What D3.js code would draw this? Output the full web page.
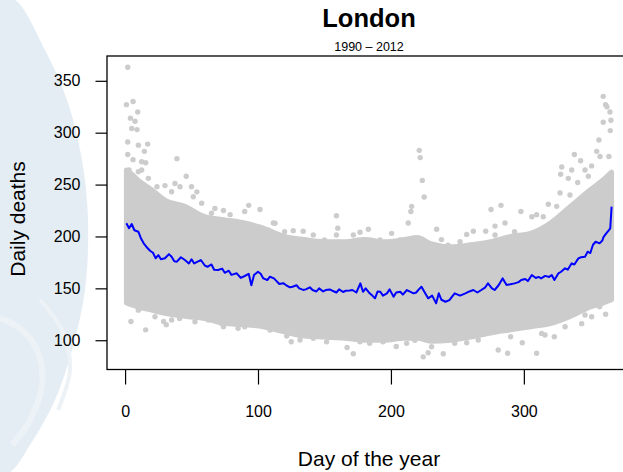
<!DOCTYPE html>
<html>
<head>
<meta charset="utf-8">
<script src="https://cdn.jsdelivr.net/npm/d3@7"></script>
<style>
  body { margin: 0; background: #fff; }
  svg { display: block; font-family: "Liberation Sans", Arial, sans-serif; }
</style>
</head>
<body>
<svg id="chart" width="623" height="472"></svg>
<script>
// daily mean deaths (blue line)
var meanDay = [1,3,5,7,10,12,14,17,19,21,23,25,27,30,33,35,37,39,42,45,48,50,52,55,57,60,62,65,67,70,73,75,78,80,84,87,90,93,95,97,100,102,104,107,109,112,114,116,119,121,124,126,129,131,134,136,139,141,144,146,149,151,154,156,159,161,164,166,169,171,174,177,179,181,184,186,188,190,192,194,197,199,202,204,207,209,212,214,217,219,221,223,225,228,231,234,236,238,241,244,246,248,252,256,259,262,265,268,271,273,276,278,281,284,287,290,293,296,298,301,303,306,309,311,313,316,319,321,323,326,328,331,333,336,338,341,343,346,348,350,352,354,357,359,360,362,364,365,366];
var meanDeaths = [212.7,208,212,206,204.6,198,193.4,188.6,186,184.3,179,182,178,179,183,180.5,176,175.7,180,177.3,174,178,174,176,177.3,172,170.8,173,168,167.7,169,165,167,163,164.5,160,161.9,164,153,162.8,166,164,159.6,158,161.2,159.6,157,154.2,155,153.2,151,151.6,153,150,148.5,149,151,148.4,147,150,147,148.4,149,147.7,146,149,146.5,147.7,148,148.4,146,154.8,146.7,150,145.2,143,140.4,147,146.7,143,145.2,149,142,146,146.7,144,148.4,147,145.2,146,149,151.6,147,140.4,143,135.6,145.2,139,137.1,138.7,142,145.2,143,145.2,147,148.4,146,148.4,151,154.8,150,148.4,153,159.6,153.2,154,154.8,156,158,159,157,162.8,160,161,159.6,162,161,162.8,158,164.5,166,169.3,168,174.1,173,178.9,180,180.5,185.3,184,192,194.9,193.4,196,199.7,203,206.2,207.8,228.7];

// edges of the dense grey cloud
var bandDay = [1,5,10,20,30,45,60,75,90,104,120,135,150,165,180,195,210,220,230,245,260,275,290,305,320,335,350,360,366];
var bandUpper = [264,260,254,245,235,229,219,216,213,208,200,197,195,195,197,195,197,199,193,190,192,195,200,203,213,229,245,255,262];
var bandLower = [136,134,132,129,126,123,121,116,115,113,108,104,103,102,100,100,102,102,99,100,103,107,110,113,116,123,132,136,139];

// scattered days outside / on the edge of the dense cloud
var outDay = [2,1,6,9.5,4,7.5,5,9,2,10,17,14.5,39,2,6,12.5,15.5,3,12.5,17.5,46,24,30,37.5,50,54,67.6,74,79,93,90,101.5,111.5,134,159,160,176.7,183,215.6,215,213,221.3,222,223.6,225,234.4,238,257,262,271.3,275.3,278.3,282.8,285.8,297.8,309.6,314.6,318.4,324.7,327.2,327.7,328.5,333.4,334.7,336,338,340.5,342.7,346,348.5,351,354.8,356.5,357.3,359.7,359.7,361.5,362.5,364,364.8,365,365.5,
  10,22.5,35,41.3,51.3,57.6,65,101.5,112.8,120,126.5,141.6,150,159,171.7,191.8,200.5,206.8,225.6,243,252,278.3,293,306,
  4.4,15.5,10,31,29,41,74,85,95,125,167,171.7,176.7,204,218,224.3,228,239.4,257,280.7,287.8,298.8,309.6,315.9,322.9,343.5,351,361.5,
  22.5,35,52.6,62.6,72.6,90,109,121.6,131.6,141.6,151.6,184,194,211.8,230.6,248,265.7,290,313.4,331,346,357];
var outDeaths = [363,327,330,320,314,311,304,303,291,288,289,282,275,279,274,272,271,264,264,256,258,248,249,251,248,243,227,225,221,230,224,226,213,205,220,208,204,207,229,224,213,283,276,254,238,207,197,202,205,205,226,210,230,213,224,221,219,231,229,242,260,267,256,240,264,279,252,273,264,258,268,282,293,277,335,310,327,325,277,320,302,312,
  262.4,241.6,243.1,247.9,238.3,232,222.3,209,212.7,204.6,205.6,201.4,196.6,201.4,201.4,196.6,203,196.6,195,191.7,195,201.4,204.6,219,
  118,110,129,115,118,121,113,111.5,116,98.6,93,87,98.6,94,100,84,88,87,97.6,90.6,87.4,97.6,87.4,105,103.4,116,122.6,125,
  122.6,119.5,117.8,119.5,116.3,113,109.8,104,100.2,101.8,98.6,97,98.6,97,93.7,97,100.2,103.4,106.6,113,124.3,132.3];

var xTicks = [0, 100, 200, 300];
var yTicks = [100, 150, 200, 250, 300, 350];

var svg = d3.select("#chart");
var pLeft = 107, pRight = 631, pTop = 56, pBottom = 369.5;

var x = d3.scaleLinear().domain([-13.6, 380.6]).range([pLeft, pRight]);
var y = d3.scaleLinear().domain([71.8, 373.9]).range([pBottom, pTop]);

// faint logo watermark behind the left margin
var wm = svg.append("g");
wm.append("path")
  .attr("d", d3.line().curve(d3.curveCatmullRom)([[0,0],[15,0],[45,50],[67,100],[82,160],[88,220],[85,290],[72,350],[55,400],[30,445],[10,472],[0,472]]) + "Z")
  .attr("fill", "#e5edf4");
wm.append("path")
  .attr("d", d3.line().curve(d3.curveCatmullRom)([[0,318],[22,330],[38,352],[42,385],[30,420],[12,445]]))
  .attr("fill", "none").attr("stroke", "#edf2f7").attr("stroke-width", 6);
wm.append("path")
  .attr("d", d3.line().curve(d3.curveCatmullRom)([[40,300],[62,330],[70,370],[58,410]]))
  .attr("fill", "none").attr("stroke", "#edf2f7").attr("stroke-width", 4);

var plot = svg.append("g");

// dense cloud
var bandRows = bandDay.map(function(d, i) { return {day: d, hi: bandUpper[i], lo: bandLower[i]}; });
plot.append("path")
  .datum(bandRows)
  .attr("d", d3.area().curve(d3.curveMonotoneX)
    .x(function(d) { return x(d.day); })
    .y0(function(d) { return y(d.lo); })
    .y1(function(d) { return y(d.hi); }))
  .attr("fill", "#cccccc")
  .attr("stroke", "#cccccc")
  .attr("stroke-width", 5)
  .attr("stroke-linejoin", "round");

plot.selectAll(".out")
  .data(outDay.map(function(d, i) { return {day: d, deaths: outDeaths[i]}; }))
  .enter().append("circle")
    .attr("class", "out")
    .attr("cx", function(d) { return x(d.day); })
    .attr("cy", function(d) { return y(d.deaths); })
    .attr("r", 2.7)
    .attr("fill", "#cccccc");

// mean line
plot.append("path")
  .datum(meanDay.map(function(d, i) { return {day: d, deaths: meanDeaths[i]}; }))
  .attr("d", d3.line()
    .x(function(d) { return x(d.day); })
    .y(function(d) { return y(d.deaths); }))
  .attr("fill", "none")
  .attr("stroke", "#0000ff")
  .attr("stroke-width", 2)
  .attr("stroke-linejoin", "round");

// box
svg.append("rect")
  .attr("x", pLeft).attr("y", pTop)
  .attr("width", pRight - pLeft).attr("height", pBottom - pTop)
  .attr("fill", "none").attr("stroke", "#000").attr("stroke-width", 1.3);

// axes
var xAxis = svg.append("g")
  .attr("transform", "translate(0," + pBottom + ")")
  .call(d3.axisBottom(x).tickValues(xTicks).tickSize(15).tickPadding(21));
xAxis.select(".domain").remove();
xAxis.selectAll("line").attr("stroke-width", 1.2);
xAxis.selectAll("text").attr("font-size", 16).attr("font-family", "Liberation Sans, Arial, sans-serif").attr("fill", "#000");

var yAxis = svg.append("g")
  .attr("transform", "translate(" + pLeft + ",0)")
  .call(d3.axisLeft(y).tickValues(yTicks).tickSize(11.5).tickPadding(15));
yAxis.select(".domain").remove();
yAxis.selectAll("line").attr("stroke-width", 1.2);
yAxis.selectAll("text").attr("font-size", 16).attr("font-family", "Liberation Sans, Arial, sans-serif").attr("fill", "#000");

// titles
var cx = (pLeft + pRight) / 2;
svg.append("text").attr("x", cx).attr("y", 27).attr("text-anchor", "middle")
  .attr("font-size", 25.5).attr("font-weight", "bold").text("London");
svg.append("text").attr("x", cx).attr("y", 50.5).attr("text-anchor", "middle")
  .attr("font-size", 12.5).text("1990 \u2013 2012");
svg.append("text").attr("x", cx).attr("y", 466).attr("text-anchor", "middle")
  .attr("font-size", 21).text("Day of the year");
svg.append("text").attr("transform", "translate(25,219) rotate(-90)").attr("text-anchor", "middle")
  .attr("font-size", 21).text("Daily deaths");
</script>
</body>
</html>
